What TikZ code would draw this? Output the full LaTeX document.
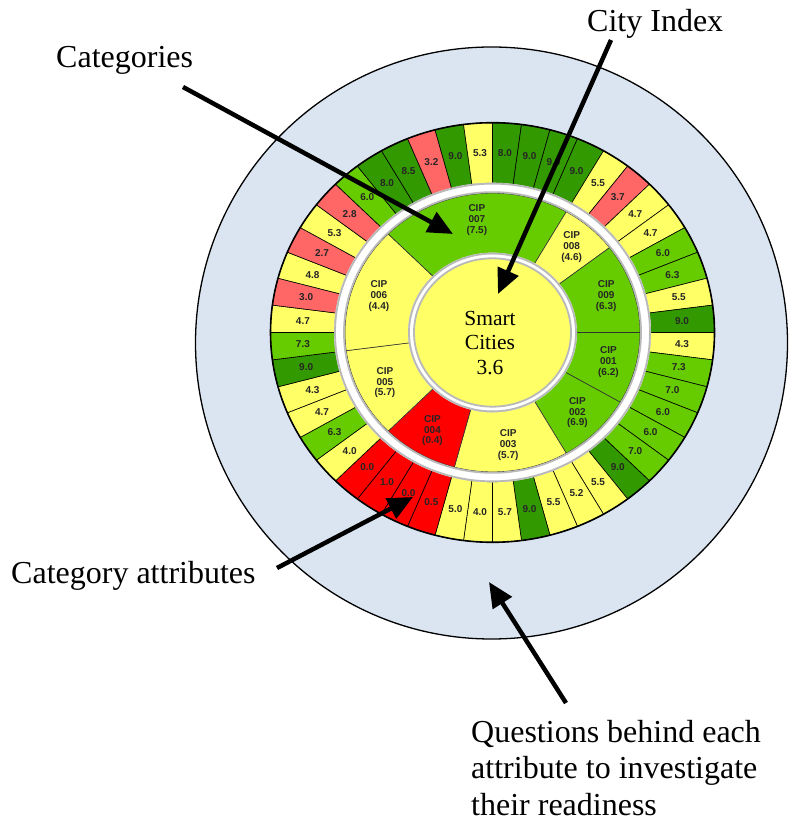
\documentclass[tikz,border=0pt]{standalone}
\usepackage{fontspec}
\setmainfont{Liberation Serif}
\setsansfont{Liberation Sans}
\usetikzlibrary{arrows.meta}

\definecolor{cRed}{HTML}{FF0000}
\definecolor{cPink}{HTML}{FF6666}
\definecolor{cYellow}{HTML}{FFFF66}
\definecolor{cLime}{HTML}{66CC00}
\definecolor{cGreen}{HTML}{339900}
\definecolor{cBlue}{HTML}{DBE5F1}

\begin{document}
\begin{tikzpicture}[
    x=1pt, y=1pt,
    label/.style={font=\fontsize{32}{36.5}\selectfont, inner sep=0pt},
    attr/.style={font=\sffamily\bfseries\fontsize{10}{11}\selectfont, text=black!85, inner sep=0pt},
    cat/.style={font=\sffamily\bfseries\fontsize{10}{10.8}\selectfont, align=center, text=black!85, inner sep=0pt},
    core/.style={font=\fontsize{21.5}{24.5}\selectfont, align=center, inner sep=0pt},
    pointer/.style={line width=4.5pt, -{Triangle[length=25pt,width=22pt]}}
]
\useasboundingbox (0,0) rectangle (798,821);

% Questions circle
\filldraw[fill=cBlue, draw=black, line width=1.3pt] (491.5,478) circle[radius=296];

\begin{scope}[shift={(492.5,488.5)}, yscale=0.945]
% Category attributes
\foreach \v/\c [count=\i from 0] in {4.3/cYellow, 7.3/cLime, 7.0/cLime, 6.0/cLime,
    6.0/cLime, 7.0/cLime, 9.0/cGreen, 5.5/cYellow,
    5.2/cYellow, 5.5/cYellow, 9.0/cGreen, 5.7/cYellow, 4.0/cYellow, 5.0/cYellow,
    0.5/cRed, 0.0/cRed, 1.0/cRed, 0.0/cRed,
    4.0/cYellow, 6.3/cLime, 4.7/cYellow, 4.3/cYellow, 9.0/cGreen,
    7.3/cLime, 4.7/cYellow, 3.0/cPink, 4.8/cYellow, 2.7/cPink, 5.3/cYellow, 2.8/cPink,
    6.0/cLime, 8.0/cGreen, 8.5/cGreen, 3.2/cPink, 9.0/cGreen, 5.3/cYellow, 8.0/cGreen, 9.0/cGreen, 9.0/cGreen, 9.0/cGreen,
    5.5/cYellow, 3.7/cPink, 4.7/cYellow,
    4.7/cYellow, 6.0/cLime, 6.3/cLime, 5.5/cYellow, 9.0/cGreen} {
    \pgfmathsetmacro\sa{-7.5*\i}
    \pgfmathsetmacro\ea{-7.5*(\i+1)}
    \pgfmathsetmacro\ma{-7.5*(\i+0.5)}
    \filldraw[fill=\c, draw=black, line width=0.6pt] (\sa:158) arc[start angle=\sa, end angle=\ea, radius=158]
        -- (\ea:222) arc[start angle=\ea, end angle=\sa, radius=222] -- cycle;
    \node[attr] (a\i) at (\ma:190) {\v};
}
\draw[line width=1.6pt] (0,0) circle[radius=222];

% Ring between attributes and categories
\fill[white] (0,0) circle[radius=158.5];

% Categories
\foreach \n/\s/\e/\v/\c in {001/0/-30/6.2/cLime, 002/-30/-60/6.9/cLime, 003/-60/-105/5.7/cYellow,
    004/-105/-135/0.4/cRed, 005/-135/-172.5/5.7/cYellow, 006/-172.5/-225/4.4/cYellow,
    007/-225/-300/7.5/cLime, 008/-300/-322.5/4.6/cYellow, 009/-322.5/-360/6.3/cLime} {
    \pgfmathsetmacro\m{(\s+\e)/2}
    \filldraw[fill=\c, draw=black!80, line width=0.6pt] (\s:84) arc[start angle=\s, end angle=\e, radius=84]
        -- (\e:147.5) arc[start angle=\e, end angle=\s, radius=147.5] -- cycle;
    \node[cat] (cip\n) at (\m:120) {CIP\\\n\\(\v)};
}
\draw[gray!55, line width=1.8pt] (0,0) circle[radius=148.5] (0,0) circle[radius=157.5];

% City index
\fill[white] (0,0) circle[radius=84.5];
\fill[cYellow] (0,0) circle[radius=78.5];
\draw[gray!55, line width=1.8pt] (0,0) circle[radius=78.5] (0,0) circle[radius=83.5];
\end{scope}

\node[core] (core) at (490,478) {Smart\\Cities\\3.6};

% Labels
\node[label, anchor=base west] (lblcat) at (56,753) {Categories};
\node[label, anchor=base west] (lblcity) at (587,789) {City Index};
\node[label, anchor=base west] (lblattr) at (11,237) {Category attributes};
\node[label, anchor=north west, align=left] (lblq) at (471,101) {Questions behind each\\attribute to investigate\\their readiness};

% Arrows
\coordinate (catTail) at (183,734);
\coordinate (catTip) at (453,587);
\coordinate (cityTail) at (611,781);
\coordinate (cityTip) at (498,527);
\coordinate (attrTail) at (277,253);
\coordinate (attrTip) at (413,324);
\coordinate (qTail) at (566,118);
\coordinate (qTip) at (489,239);
\draw[pointer] (catTail) -- (catTip);
\draw[pointer] (cityTail) -- (cityTip);
\draw[pointer] (attrTail) -- (attrTip);
\draw[pointer] (qTail) -- (qTip);
\end{tikzpicture}
\end{document}
